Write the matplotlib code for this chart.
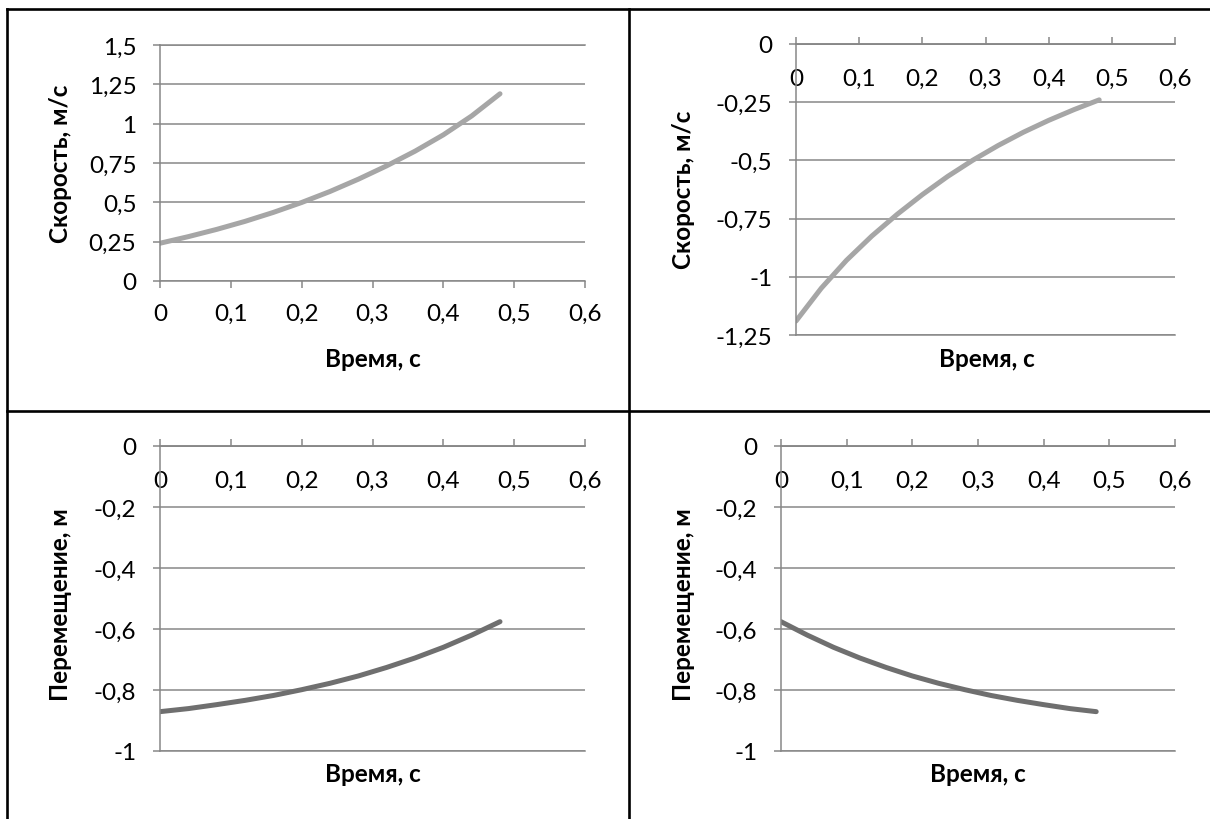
import matplotlib
matplotlib.use('Agg')
import matplotlib.pyplot as plt
from matplotlib.lines import Line2D

plt.rcParams['font.family'] = ['Lato', 'DejaVu Sans']

time_s = [0, 0.04, 0.08, 0.12, 0.16, 0.20, 0.24, 0.28, 0.32, 0.36, 0.40, 0.44, 0.48]

speed_up = [0.24, 0.282, 0.328, 0.379, 0.436, 0.499, 0.569, 0.647, 0.732, 0.825, 0.929, 1.049, 1.19]
speed_down = [-1.19, -1.049, -0.929, -0.825, -0.732, -0.647, -0.569, -0.499, -0.436, -0.379, -0.328, -0.282, -0.24]
disp_up = [-0.871, -0.861, -0.848, -0.834, -0.818, -0.799, -0.778, -0.754, -0.726, -0.695, -0.660, -0.620, -0.576]
disp_down = [-0.576, -0.620, -0.660, -0.695, -0.726, -0.754, -0.778, -0.799, -0.818, -0.834, -0.848, -0.861, -0.871]

x_ticks = [0, 0.1, 0.2, 0.3, 0.4, 0.5, 0.6]
x_tick_labels = ['0', '0,1', '0,2', '0,3', '0,4', '0,5', '0,6']

v_pos_ticks = [0, 0.25, 0.5, 0.75, 1, 1.25, 1.5]
v_pos_labels = ['0', '0,25', '0,5', '0,75', '1', '1,25', '1,5']
v_neg_ticks = [-1.25, -1, -0.75, -0.5, -0.25, 0]
v_neg_labels = ['-1,25', '-1', '-0,75', '-0,5', '-0,25', '0']
s_ticks = [-1, -0.8, -0.6, -0.4, -0.2, 0]
s_labels = ['-1', '-0,8', '-0,6', '-0,4', '-0,2', '0']

X_LABEL = 'Время, с'
V_LABEL = 'Скорость, м/с'
S_LABEL = 'Перемещение, м'

# ── оформление ────────────────────────────────────────────────────────────────
W, H = 1210, 820
GRID = '#878787'
LIGHT = '#a6a6a6'
DARK = '#6f6f6f'
FS = 17.5

fig = plt.figure(figsize=(W / 100, H / 100), dpi=100)


def axes_px(left, top, right, bottom):
    return fig.add_axes([left / W, 1 - bottom / H, (right - left) / W, (bottom - top) / H])


def style(ax, yticks, ylabels, axis_on_top):
    ax.set_xlim(x_ticks[0], x_ticks[-1])
    ax.set_ylim(yticks[0], yticks[-1])
    ax.set_xticks(x_ticks, x_tick_labels)
    ax.set_yticks(yticks, ylabels)
    ax.grid(axis='y', color=GRID, lw=1.1)
    ax.set_axisbelow(True)
    ax.spines['right'].set_visible(False)
    for sp in ('left', 'top', 'bottom'):
        ax.spines[sp].set_color(GRID)
        ax.spines[sp].set_linewidth(1.1)
    ax.tick_params(axis='y', length=5, width=1.1, color=GRID, pad=12, labelsize=FS)
    if axis_on_top:
        # ось X проходит через 0 (верх области), подписи под ней
        ax.spines['bottom'].set_position(('data', 0))
        ax.axhline(yticks[0], color=GRID, lw=1.1, clip_on=False)
        ax.tick_params(axis='x', direction='in', length=5, width=1.1, color=GRID,
                       pad=17, labelsize=FS)
    else:
        ax.tick_params(axis='x', direction='out', length=5, width=1.1, color=GRID,
                       pad=11, labelsize=FS)


def label_px(x, y, s, rot=0):
    fig.text(x / W, 1 - y / H, s, ha='center', va='center', rotation=rot,
             fontsize=FS, fontweight='bold')


ax1 = axes_px(160, 46, 585, 282)
style(ax1, v_pos_ticks, v_pos_labels, False)
ax1.plot(time_s, speed_up, color=LIGHT, lw=3.6, solid_capstyle='round')
label_px(373, 360, X_LABEL)
label_px(60, 164, V_LABEL, 90)

ax2 = axes_px(796, 45, 1175, 336)
style(ax2, v_neg_ticks, v_neg_labels, True)
ax2.plot(time_s, speed_down, color=LIGHT, lw=3.6, solid_capstyle='round')
label_px(987, 360, X_LABEL)
label_px(683, 190, V_LABEL, 90)

ax3 = axes_px(160, 447, 585, 752)
style(ax3, s_ticks, s_labels, True)
ax3.plot(time_s, disp_up, color=DARK, lw=3.6, solid_capstyle='round')
label_px(373, 775, X_LABEL)
label_px(60, 605, S_LABEL, 90)

ax4 = axes_px(781, 447, 1175, 752)
style(ax4, s_ticks, s_labels, True)
ax4.plot(time_s, disp_down, color=DARK, lw=3.6, solid_capstyle='round')
label_px(978, 775, X_LABEL)
label_px(683, 605, S_LABEL, 90)

# рамка таблицы
for x0, y0, x1, y1 in [(7, 10, W, 10), (7, 412, W, 412), (7, 10, 7, H), (629, 10, 629, H)]:
    fig.add_artist(Line2D([x0 / W, x1 / W], [1 - y0 / H, 1 - y1 / H], color='black', lw=1.9,
                          transform=fig.transFigure))

fig.savefig('out.png', dpi=100)
